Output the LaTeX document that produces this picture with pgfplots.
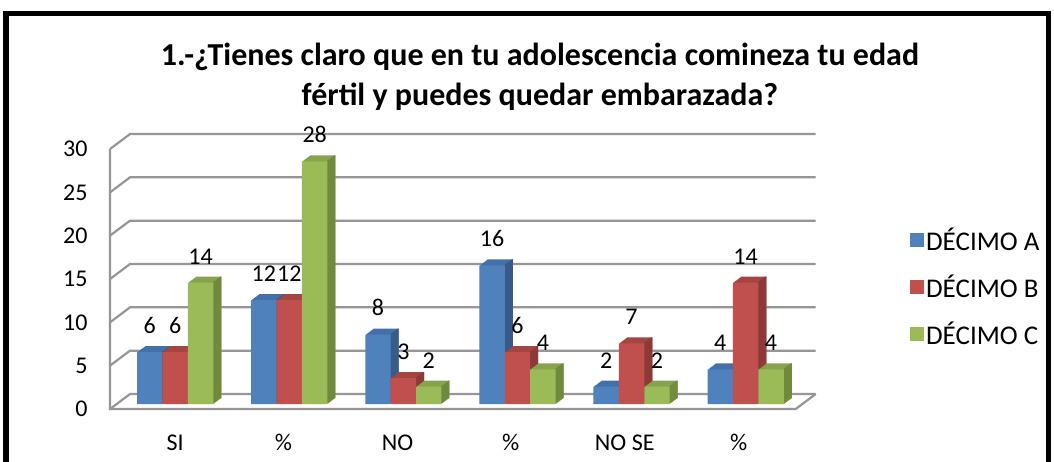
\documentclass[border=0pt]{standalone}
\usepackage{pgfplots}
\pgfplotsset{compat=1.18}
\usepackage{pgfplotstable}
\usepackage{fontspec}
\setmainfont{Carlito}

\definecolor{aF}{HTML}{4F81BD}\definecolor{aT}{HTML}{4470A9}\definecolor{aS}{HTML}{375A87}
\definecolor{bF}{HTML}{C0504D}\definecolor{bT}{HTML}{A54542}\definecolor{bS}{HTML}{8B3A38}
\definecolor{cF}{HTML}{9BBB59}\definecolor{cT}{HTML}{87A44D}\definecolor{cS}{HTML}{6F8A3C}
\definecolor{gridc}{HTML}{969696}

\pgfplotstableread{
x A B C
0 6 6 14
1 12 12 28
2 8 3 2
3 16 6 4
4 2 7 2
5 4 14 4
}\datatab

% #1 column, #2 front shift, #3 side shift, #4 front, #5 top, #6 side
\newcommand{\barseries}[6]{%
  \pgfplotsinvokeforeach{1,...,8}{%
    \addplot[fill=#5, draw=none, bar width=25.4pt, bar shift=#2pt, xshift=##1pt, yshift={0.75*##1pt}, forget plot] table[x=x,y=#1]{\datatab};
  }%
  \pgfplotsinvokeforeach{1,...,8}{%
    \addplot[fill=#6, draw=none, bar width=1.4pt, bar shift=#3pt, xshift=##1pt, yshift={0.75*##1pt}, forget plot] table[x=x,y=#1]{\datatab};
  }%
  \addplot[fill=#4, draw=none, bar width=25.4pt, bar shift=#2pt, nodes near coords] table[x=x,y=#1]{\datatab};
}

\begin{document}
\begin{tikzpicture}
\useasboundingbox (0pt,0pt) rectangle (1054pt,461pt);
\clip (0pt,0pt) rectangle (1054pt,461pt);
\fill[white] (0pt,0pt) rectangle (1054pt,461pt);
\draw[line width=5.5pt] (6pt,-20pt) -- (6pt,447.5pt) -- (1048.5pt,447.5pt) -- (1048.5pt,-20pt);
\node[font=\fontsize{32}{40}\selectfont\bfseries, align=center] at (540pt,384pt) {1.-¿Tienes claro que en tu adolescencia comineza tu edad\\fértil y puedes quedar embarazada?};
\begin{scope}[shift={(117pt,57pt)}]
\begin{axis}[
  scale only axis, width=685.7pt, height=260pt,
  xmin=-0.51, xmax=5.5, ymin=0, ymax=30,
  ybar, clip=false,
  /pgf/number format/assume math mode=true,
  axis line style={draw=none}, major tick length=0pt,
  xtick={0,0.95,1.95,2.94,3.94,4.94},
  xticklabels={SI,\%,NO,\%,NO SE,\%},
  ytick={0,5,...,30},
  tick label style={font=\fontsize{24}{28}\selectfont},
  yticklabel style={xshift=-26pt, yshift=-5pt},
  xticklabel style={yshift=-27pt},
  nodes near coords style={font=\fontsize{24}{28}\selectfont, yshift=15pt},
  legend style={draw=none, fill=none, at={(axis description cs:1.152,0.694)}, anchor=north west,
    font=\fontsize{27}{31}\selectfont, row sep=19pt},
  legend cell align=left,
  legend image code/.code={\fill[#1] (0pt,-7pt) rectangle (14pt,7pt);},
]
% back wall grid
\pgfplotsinvokeforeach{0,5,10,15,20,25,30}{%
  \draw[gridc, line width=2.2pt] ([shift={(-7pt,-5pt)}]axis cs:-0.51,#1) -- ([shift={(13pt,10pt)}]axis cs:-0.51,#1) -- ([shift={(13pt,10pt)}]axis cs:5.5,#1);
}
\draw[gridc, line width=2.2pt] ([shift={(-7pt,-5pt)}]axis cs:-0.51,30) -- ([shift={(-7pt,-5pt)}]axis cs:-0.51,0) -- ([shift={(-7pt,-5pt)}]axis cs:5.5,0) -- ([shift={(13pt,10pt)}]axis cs:5.5,0);
\barseries{A}{-25.4}{-13.4}{aF}{aT}{aS}
\barseries{B}{0}{12.0}{bF}{bT}{bS}
\barseries{C}{25.4}{37.4}{cF}{cT}{cS}
\legend{DÉCIMO A,DÉCIMO B,DÉCIMO C}
\end{axis}
\end{scope}
\end{tikzpicture}
\end{document}
